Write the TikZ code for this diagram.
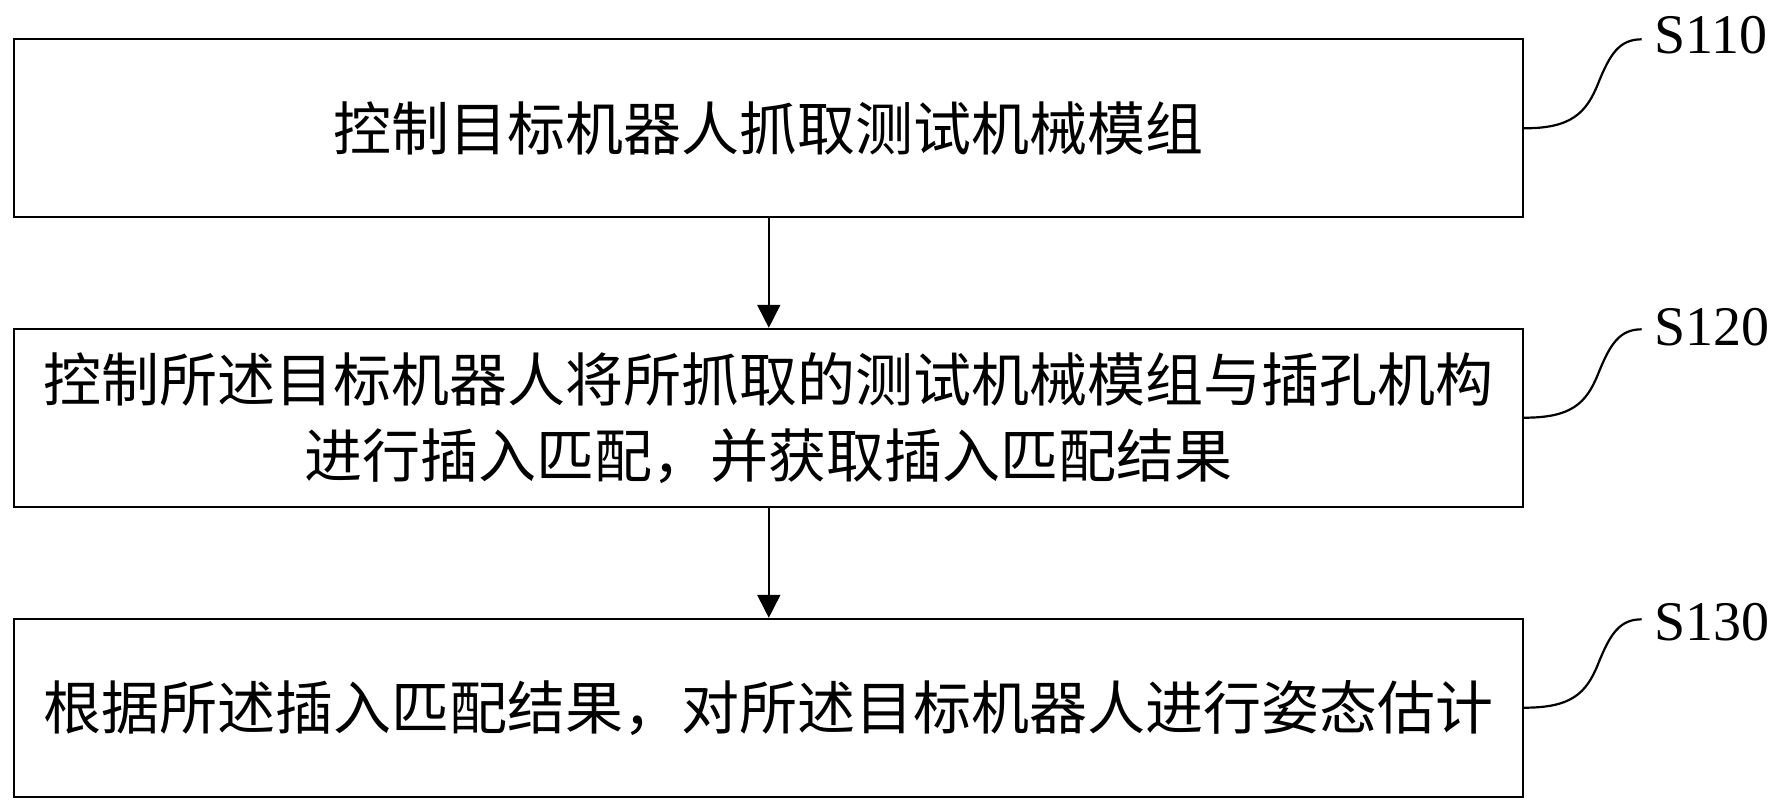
\documentclass[tikz,border=0pt]{standalone}
\usepackage{fontspec}
\setmainfont{Liberation Serif}
\newfontfamily\cjk{Noto Sans CJK SC}
\usetikzlibrary{arrows.meta}
\begin{document}
\begin{tikzpicture}[x=1pt,y=-1pt,
  stepbox/.style={draw,line width=1.8pt,minimum width=1509pt,minimum height=178pt,inner sep=0pt,
    font=\cjk\fontsize{58pt}{76pt}\selectfont,align=center},
  flow/.style={line width=1.8pt,-{Triangle[width=23pt,length=23pt]}},
  lead/.style={line width=2.2pt},
  steplabel/.style={anchor=base west,inner sep=0pt,font=\fontsize{56pt}{60pt}\selectfont}]
\useasboundingbox (0,0) rectangle (1783,811);
\node[stepbox] (b1) at (768.8,128.3) {控制目标机器人抓取测试机械模组};
\node[stepbox] (b2) at (768.8,417.7) {控制所述目标机器人将所抓取的测试机械模组与插孔机构\\进行插入匹配，并获取插入匹配结果};
\node[stepbox] (b3) at (768.8,707.7) {根据所述插入匹配结果，对所述目标机器人进行姿态估计};
\draw[flow] (b1.south) -- (b2.north);
\draw[flow] (b2.south) -- (b3.north);
\coordinate (e1) at (1641.7,39.3);
\coordinate (e2) at (1641.7,329.3);
\coordinate (e3) at (1641.7,619.3);
\node[steplabel] (l1) at (1654,53.3) {S110};
\node[steplabel] (l2) at (1654,345) {S120};
\node[steplabel] (l3) at (1654,640) {S130};
\draw[lead] (b1.east) .. controls +(47,0) and +(-12,30) .. ([shift={(74,-45)}]b1.east) .. controls +(12,-30) and +(-22,0) .. (e1);
\draw[lead] (b2.east) .. controls +(47,0) and +(-12,30) .. ([shift={(74,-44)}]b2.east) .. controls +(12,-30) and +(-22,0) .. (e2);
\draw[lead] (b3.east) .. controls +(47,0) and +(-12,30) .. ([shift={(74,-44)}]b3.east) .. controls +(12,-30) and +(-22,0) .. (e3);
\end{tikzpicture}
\end{document}
